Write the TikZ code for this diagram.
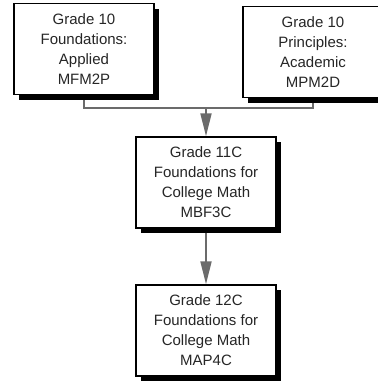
\documentclass[tikz,border=0pt]{standalone}
\usepackage{fontspec}
\setmainfont{Liberation Sans}
\usetikzlibrary{shadows,arrows.meta,backgrounds}
\begin{document}
\begin{tikzpicture}[x=1pt,y=-1pt,
  box/.style={draw=black, line width=1.5pt, fill=white, minimum width=140pt,
    minimum height=91pt, inner sep=0pt, align=center,
    font=\fontsize{15pt}{20pt}\selectfont, text=black!85,
    drop shadow={shadow xshift=5pt, shadow yshift=-5pt, fill=black, opacity=1}},
  link/.style={draw=black!58, line width=2pt},
  tip/.style={-{Triangle[width=11pt,length=23pt]}, fill=black!58}]
\useasboundingbox (0,0) rectangle (378,381);
\node[box] (g10f) at (84,49) {Grade 10\\Foundations:\\Applied\\MFM2P};
\node[box] (g10p) at (313,52) {Grade 10\\Principles:\\Academic\\MPM2D};
\node[box] (g11) at (206,182.5) {Grade 11C\\Foundations for\\College Math\\MBF3C};
\node[box] (g12) at (206,330.5) {Grade 12C\\Foundations for\\College Math\\MAP4C};
\coordinate (j) at (206,108);
\begin{scope}[on background layer]
\draw[link] (g10f.south) |- (j) -| (g10p.south);
\draw[link,tip] (j) -- (g11.north);
\draw[link,tip] (g11.south) -- (g12.north);
\end{scope}
\end{tikzpicture}
\end{document}
